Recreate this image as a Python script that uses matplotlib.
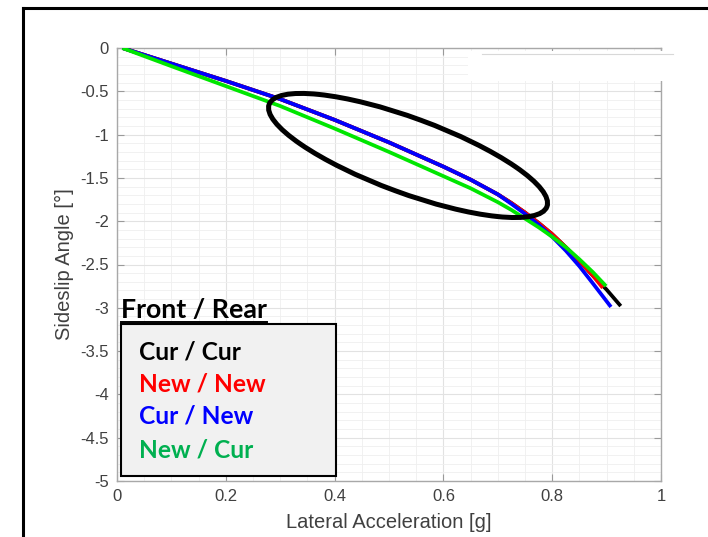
import matplotlib
matplotlib.use("Agg")
import matplotlib.pyplot as plt
import matplotlib.transforms as mtransforms
from matplotlib.patches import Ellipse, Rectangle
from matplotlib.lines import Line2D
import numpy as np

# ---- data ----
x_cur_cur = [0.01, 0.1, 0.2, 0.3, 0.4, 0.5, 0.6, 0.65, 0.7, 0.725, 0.75, 0.775, 0.8, 0.825, 0.85, 0.875, 0.9, 0.926]
y_cur_cur = [0.0, -0.18, -0.38, -0.59, -0.83, -1.09, -1.37, -1.52, -1.69, -1.79, -1.90, -2.02, -2.15, -2.30, -2.46, -2.63, -2.79, -2.98]

x_new_new = [0.01, 0.1, 0.2, 0.3, 0.4, 0.5, 0.6, 0.65, 0.7, 0.725, 0.75, 0.775, 0.8, 0.825, 0.85, 0.875, 0.893]
y_new_new = [0.0, -0.18, -0.38, -0.59, -0.83, -1.09, -1.37, -1.52, -1.69, -1.79, -1.90, -2.02, -2.15, -2.30, -2.46, -2.63, -2.77]

x_cur_new = [0.01, 0.1, 0.2, 0.3, 0.4, 0.5, 0.6, 0.65, 0.7, 0.725, 0.75, 0.775, 0.8, 0.825, 0.85, 0.875, 0.908]
y_cur_new = [0.0, -0.18, -0.38, -0.59, -0.83, -1.09, -1.37, -1.52, -1.69, -1.80, -1.915, -2.04, -2.18, -2.34, -2.52, -2.72, -2.99]

x_new_cur = [0.01, 0.1, 0.2, 0.3, 0.4, 0.5, 0.6, 0.65, 0.7, 0.725, 0.75, 0.775, 0.8, 0.825, 0.85, 0.875, 0.899]
y_new_cur = [0.0, -0.21, -0.44, -0.67, -0.93, -1.20, -1.48, -1.62, -1.78, -1.87, -1.97, -2.07, -2.18, -2.30, -2.44, -2.59, -2.75]

legend_title = "Front / Rear"
legend_labels = ["Cur / Cur", "New / New", "Cur / New", "New / Cur"]
legend_colors = ["#000000", "#ff0000", "#0000ff", "#00b050"]
line_colors = ["#000000", "#ff0000", "#0000ff", "#00e600"]

x_ticks = [0, 0.2, 0.4, 0.6, 0.8, 1]
x_ticklabels = ["0", "0.2", "0.4", "0.6", "0.8", "1"]
y_ticks = [0, -0.5, -1, -1.5, -2, -2.5, -3, -3.5, -4, -4.5, -5]
y_ticklabels = ["0", "-0.5", "-1", "-1.5", "-2", "-2.5", "-3", "-3.5", "-4", "-4.5", "-5"]

W, H = 708, 537
fig = plt.figure(figsize=(W / 100, H / 100), dpi=100)
fig.patch.set_facecolor("white")

def fx(px):
    return px / W

def fy(py):
    return 1 - py / H

ax = fig.add_axes([fx(117), fy(481), (661 - 117) / W, (481 - 48) / H])

series = [(x_cur_cur, y_cur_cur), (x_new_new, y_new_new), (x_cur_new, y_cur_new), (x_new_cur, y_new_cur)]
for (xs, ys), c in zip(series, line_colors):
    ax.plot(xs, ys, color=c, lw=2.7, solid_capstyle="butt", solid_joinstyle="round", zorder=3)

ax.set_xlim(0, 1)
ax.set_ylim(-5, 0)
ax.set_xticks(x_ticks)
ax.set_xticklabels(x_ticklabels)
ax.set_yticks(y_ticks)
ax.set_yticklabels(y_ticklabels)
ax.set_xticks(np.arange(0, 1.0001, 0.05), minor=True)
ax.set_yticks(np.arange(-5, 0.0001, 0.1), minor=True)
ax.grid(True, which="major", color="#e2e2e2", lw=0.8, zorder=0)
ax.grid(True, which="minor", color="#efefef", lw=0.6, zorder=0)
ax.set_axisbelow(True)
ax.tick_params(which="major", direction="in", length=5, width=0.8, color="#9a9a9a",
               top=True, right=True, labelsize=12, labelcolor="#404040", pad=6)
ax.tick_params(which="minor", length=0, top=True, right=True)
for s in ax.spines.values():
    s.set_color("#a8a8a8")
    s.set_linewidth(1.0)
for lab in ax.get_xticklabels() + ax.get_yticklabels():
    lab.set_fontfamily("Liberation Sans")

ax.set_xlabel("Lateral Acceleration [g]", fontsize=14.5, color="#404040",
              fontfamily="Liberation Sans", labelpad=6)
ax.set_ylabel("Sideslip Angle [°]", fontsize=14.5, color="#404040",
              fontfamily="Liberation Sans", labelpad=4)

# annotation ellipse (sized in inches, centred on a data point)
ell_trans = fig.dpi_scale_trans + mtransforms.ScaledTranslation(0.535, -1.241, ax.transData)
ell = Ellipse((0, 0), 2.96, 0.75, angle=-20.2, transform=ell_trans,
              fill=False, edgecolor="black", lw=3.6, zorder=5)
ax.add_artist(ell)
ell.set_clip_on(False)

# white patch present in the reference near the top right
fig.patches.append(Rectangle((fx(468), fy(81)), (672 - 468) / W, (81 - 51) / H,
                             transform=fig.transFigure, facecolor="white",
                             edgecolor="none", zorder=2))
fig.lines.append(Line2D([fx(482), fx(673)], [fy(54), fy(54)], transform=fig.transFigure,
                        color="#d8d8d8", lw=0.8, zorder=3))

# outer frame (top and left)
fig.lines.append(Line2D([fx(23), fx(708)], [fy(7.5), fy(7.5)], transform=fig.transFigure,
                        color="black", lw=2.2, zorder=5))
fig.lines.append(Line2D([fx(23), fx(23)], [fy(7.5), fy(537)], transform=fig.transFigure,
                        color="black", lw=2.2, zorder=5))

# custom legend box
fig.patches.append(Rectangle((fx(121), fy(476)), (336 - 121) / W, (476 - 324) / H,
                             transform=fig.transFigure, facecolor="#f1f1f1",
                             edgecolor="black", lw=1.5, zorder=6))

font_leg = "Lato"
fs = 16
title = fig.text(fx(121), fy(318), legend_title, fontsize=fs, fontweight="bold",
                 fontfamily=font_leg, color="black", ha="left", va="baseline", zorder=7)
fig.canvas.draw()
r = fig.canvas.get_renderer()
bb = title.get_window_extent(r)
fs = fs * 146.0 / bb.width
title.set_fontsize(fs)
fig.canvas.draw()
bb = title.get_window_extent(r)
fig.lines.append(Line2D([bb.x0 / W, bb.x1 / W], [fy(321.5), fy(321.5)], transform=fig.transFigure,
                        color="black", lw=1.4, zorder=7))

rows_y = [359, 392, 424, 457]
entries = []
for lab, c, yy in zip(legend_labels, legend_colors, rows_y):
    entries.append(fig.text(fx(139), fy(yy), lab, fontsize=fs, fontweight="bold",
                            fontfamily=font_leg, color=c, ha="left", va="baseline", zorder=7))
fig.canvas.draw()
wb = entries[1].get_window_extent(r)
efs = fs * 127.0 / wb.width
for t in entries:
    t.set_fontsize(efs)

fig.savefig("out.png", dpi=100)
